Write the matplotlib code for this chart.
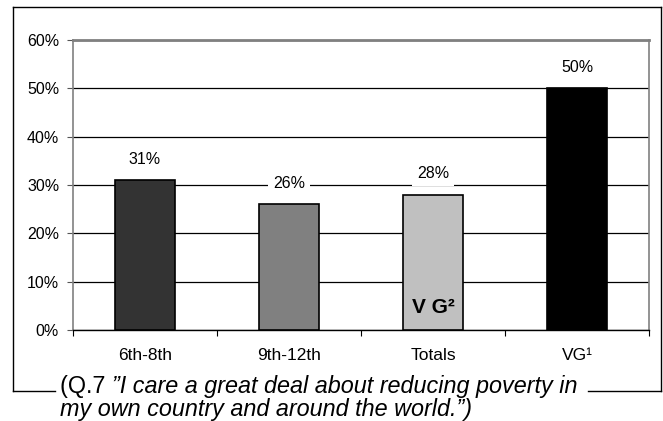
import matplotlib
matplotlib.use('Agg')
import matplotlib.pyplot as plt
from matplotlib.lines import Line2D
from matplotlib.ticker import FixedLocator, FuncFormatter

plt.rcParams['font.family'] = ['Liberation Sans', 'DejaVu Sans']

# data
categories = ['6th-8th', '9th-12th', 'Totals', 'VG\u00b9']
values = [31, 26, 28, 50]
bar_colors = ['#333333', '#808080', '#c0c0c0', '#000000']

W, H = 663, 421
fig = plt.figure(figsize=(W / 100, H / 100), dpi=100)

ax = fig.add_axes([73 / W, 1 - 330 / H, (649 - 73) / W, (330 - 40) / H])
x = list(range(len(categories)))
bars = ax.bar(x, values, width=0.41, color=bar_colors, edgecolor='black',
              linewidth=1.2, zorder=3)

ax.set_xlim(-0.5, len(categories) - 0.5)
ax.set_ylim(0, 60)
ax.set_yticks(range(0, 61, 10))
ax.yaxis.set_major_formatter(FuncFormatter(lambda v, p: f'{int(v)}%'))
ax.yaxis.grid(True, color='black', lw=0.9, zorder=1)
ax.tick_params(axis='y', length=4, width=0.8, pad=6, labelsize=11.5,
               color='#555555')

ax.set_xticks(x)
ax.set_xticklabels(categories, fontsize=12.5)
ax.tick_params(axis='x', length=0, pad=13)
ax.xaxis.set_minor_locator(FixedLocator([i - 0.5 for i in range(len(categories) + 1)]))
ax.tick_params(axis='x', which='minor', length=4, width=0.8, color='black')

for side in ['top', 'right', 'left']:
    ax.spines[side].set_color('#808080')
    ax.spines[side].set_linewidth(1.2)
ax.spines['top'].set_linewidth(2.0)
ax.spines['bottom'].set_color('black')
ax.spines['bottom'].set_linewidth(1.0)

for b, v in zip(bars, values):
    ax.annotate(f'{v}%', (b.get_x() + b.get_width() / 2, v),
                xytext=(0, 21), textcoords='offset pixels',
                ha='center', va='center', fontsize=11.5,
                bbox=dict(boxstyle='square,pad=0.3', fc='white', ec='none'),
                zorder=5)

ax.text(x[2], 4.6, 'V G\u00b2', ha='center', va='center', fontsize=15,
        fontweight='bold', zorder=6)

# caption
fig.canvas.draw()
r = fig.canvas.get_renderer()
t1 = fig.text(60 / W, 1 - 393 / H, '(Q.7 ', fontsize=16.8, va='baseline')
bb = t1.get_window_extent(r)
t2 = fig.text(bb.x1 / W, 1 - 393 / H,
              '\u201dI care a great deal about reducing poverty in',
              fontsize=16.8, style='italic', va='baseline')
fig.text(60 / W, 1 - 416 / H, 'my own country and around the world.\u201d)',
         fontsize=16.8, style='italic', va='baseline')
end_x = t2.get_window_extent(r).x1

# outer frame (bottom side broken by the caption)
fx0, fx1 = 13 / W, 661 / W
fy0, fy1 = 1 - 391 / H, 1 - 7 / H
frame_kw = dict(color='black', lw=1.0, transform=fig.transFigure)
fig.add_artist(Line2D([fx0, fx0], [fy0, fy1], **frame_kw))
fig.add_artist(Line2D([fx0, fx1], [fy1, fy1], **frame_kw))
fig.add_artist(Line2D([fx1, fx1], [fy0, fy1], **frame_kw))
fig.add_artist(Line2D([fx0, 55 / W], [fy0, fy0], **frame_kw))
fig.add_artist(Line2D([(end_x + 11) / W, fx1], [fy0, fy0], **frame_kw))

fig.savefig('out.png', dpi=100, facecolor='white')
